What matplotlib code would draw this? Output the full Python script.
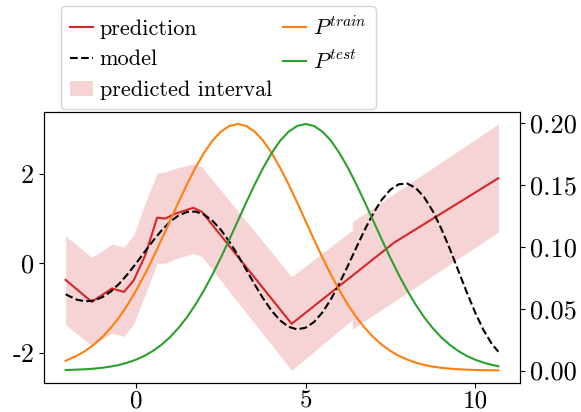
import matplotlib
matplotlib.use("Agg")
import matplotlib.pyplot as plt

plt.rcParams['font.family'] = 'serif'
plt.rcParams['font.serif'] = ['cmr10']
plt.rcParams['mathtext.fontset'] = 'cm'
plt.rcParams['axes.unicode_minus'] = False
plt.rcParams['axes.formatter.use_mathtext'] = False

# dense x grid for smooth curves
x_grid = [-2.08, -1.75, -1.5, -1.25, -1.0, -0.75, -0.5, -0.25, 0.0, 0.25, 0.5, 0.75,
          1.0, 1.25, 1.5, 1.75, 2.0, 2.25, 2.5, 2.75, 3.0, 3.25, 3.5, 3.75, 4.0, 4.25,
          4.5, 4.75, 5.0, 5.25, 5.5, 5.75, 6.0, 6.25, 6.5, 6.75, 7.0, 7.25, 7.5, 7.75,
          8.0, 8.25, 8.5, 8.75, 9.0, 9.25, 9.5, 9.75, 10.0, 10.25, 10.5, 10.69]

model_y = [-0.692, -0.812, -0.848, -0.830, -0.757, -0.631, -0.456, -0.241, 0.0, 0.254,
           0.503, 0.733, 0.926, 1.068, 1.147, 1.156, 1.091, 0.953, 0.748, 0.487, 0.184,
           -0.143, -0.474, -0.786, -1.060, -1.275, -1.417, -1.474, -1.438, -1.310, -1.094,
           -0.801, -0.447, -0.054, 0.355, 0.754, 1.117, 1.420, 1.642, 1.765, 1.781, 1.684,
           1.477, 1.171, 0.783, 0.336, -0.147, -0.631, -1.088, -1.489, -1.803, -1.973]

p_train = [0.0079, 0.0119, 0.0159, 0.0209, 0.0270, 0.0344, 0.0431, 0.0533, 0.0648, 0.0775,
           0.0913, 0.1060, 0.1210, 0.1361, 0.1506, 0.1641, 0.1760, 0.1860, 0.1933, 0.1979,
           0.1995, 0.1979, 0.1933, 0.1860, 0.1760, 0.1641, 0.1506, 0.1361, 0.1210, 0.1060,
           0.0913, 0.0775, 0.0648, 0.0533, 0.0431, 0.0344, 0.0270, 0.0209, 0.0159, 0.0119,
           0.0088, 0.0064, 0.0045, 0.0032, 0.0022, 0.0015, 0.0010, 0.0007, 0.0004, 0.0003,
           0.0002, 0.0001]

p_test = [0.0004, 0.0007, 0.0010, 0.0015, 0.0022, 0.0032, 0.0045, 0.0064, 0.0088, 0.0119,
          0.0159, 0.0209, 0.0270, 0.0344, 0.0431, 0.0533, 0.0648, 0.0775, 0.0913, 0.1060,
          0.1210, 0.1361, 0.1506, 0.1641, 0.1760, 0.1860, 0.1933, 0.1979, 0.1995, 0.1979,
          0.1933, 0.1860, 0.1760, 0.1641, 0.1506, 0.1361, 0.1210, 0.1060, 0.0913, 0.0775,
          0.0648, 0.0533, 0.0431, 0.0344, 0.0270, 0.0209, 0.0159, 0.0119, 0.0088, 0.0064,
          0.0045, 0.0035]

pred_x = [-2.08, -1.31, -0.71, -0.36, -0.07, 0.27, 0.62, 0.86, 1.16, 1.69, 1.94, 4.59, 7.61, 10.69]
pred_y = [-0.37, -0.86, -0.56, -0.64, -0.38, 0.18, 1.02, 1.00, 1.11, 1.24, 1.15, -1.35, 0.46, 1.90]

band_x = [-2.08, -1.31, -0.71, -0.36, -0.07, 0.27, 0.62, 0.86, 1.16, 1.69, 1.94, 4.59, 6.38, 6.38, 10.69]
band_lo = [-1.37, -1.84, -1.56, -1.63, -1.35, -0.70, 0.0, 0.0, 0.10, 0.22, 0.15, -2.39, -1.26, -1.47, 0.70]
band_hi = [0.61, 0.13, 0.43, 0.36, 0.63, 1.35, 2.01, 2.04, 2.12, 2.22, 2.15, -0.30, 0.74, 0.93, 3.11]

xticks = [0, 5, 10]
yticks_left = [-2, 0, 2]
yticks_right = [0.00, 0.05, 0.10, 0.15, 0.20]

fig = plt.figure(figsize=(5.81, 4.12), dpi=100)
ax = fig.add_axes([44/581, 1-382.7/412, (520-44)/581, (382.7-111.7)/412])
ax2 = ax.twinx()

h_pred, = ax.plot(pred_x, pred_y, color='tab:red', lw=1.5, label='prediction')
h_model, = ax.plot(x_grid, model_y, color='black', ls='--', lw=1.5, label='model')
h_band = ax.fill_between(band_x, band_lo, band_hi, color='tab:red', alpha=0.2, lw=0,
                         label='predicted interval')
h_tr, = ax2.plot(x_grid, p_train, color='tab:orange', lw=1.5, label='$P^{train}$')
h_te, = ax2.plot(x_grid, p_test, color='tab:green', lw=1.5, label='$P^{test}$')

ax.set_xticks(xticks)
ax.set_yticks(yticks_left)
ax.set_yticklabels([str(v) for v in yticks_left])
ax2.set_yticks(yticks_right)
ax2.set_yticklabels(['%.2f' % v for v in yticks_right])
ax.tick_params(axis='y', labelsize=19)
ax.tick_params(axis='x', labelsize=18, pad=2)
ax2.tick_params(labelsize=19)

fig.legend(handles=[h_pred, h_model, h_band, h_tr, h_te], ncol=2, loc='lower left',
           bbox_to_anchor=(60.7/581, 1-109/412), bbox_transform=fig.transFigure,
           borderaxespad=0, fontsize=16, handlelength=1.05, handletextpad=0.3,
           columnspacing=0.5, labelspacing=0.5)

fig.savefig('out.png', dpi=100)
